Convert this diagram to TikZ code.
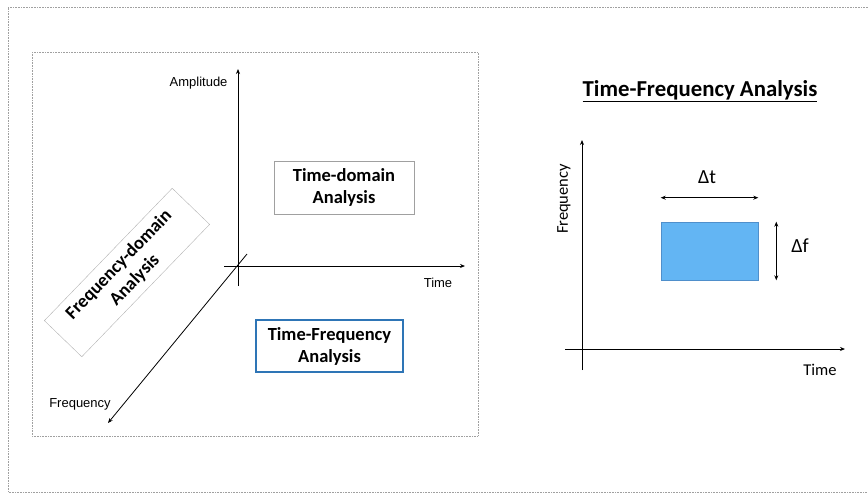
\documentclass[tikz,border=0pt]{standalone}
\usepackage{fontspec}
\setmainfont{Carlito}
\newfontfamily\arialfont{Liberation Sans}
\usetikzlibrary{arrows.meta}
\definecolor{boxblue}{HTML}{2E75B6}
\definecolor{cellfill}{HTML}{63B5F3}
\definecolor{cellline}{HTML}{4F8FCB}
\definecolor{framegray}{HTML}{A0A0A0}
\begin{document}
\begin{tikzpicture}[x=1pt, y=-1pt,
    axis/.style={line width=0.8pt, -{Stealth[length=5pt,width=4pt]}},
    span/.style={line width=0.8pt, {Stealth[length=5pt,width=4pt]}-{Stealth[length=5pt,width=4pt]}},
    analysis/.style={draw, align=center, inner sep=0pt, font=\fontsize{18.5}{22}\selectfont\bfseries},
    axislabel/.style={font=\arialfont\fontsize{13}{15}\selectfont}]
    \useasboundingbox (0,0) rectangle (868,493);
    % frames
    \draw[framegray, densely dotted, line width=0.6pt] (868,7) -- (8,7) -- (8,492) -- (868,492);
    \draw[framegray, densely dotted, line width=0.6pt] (32,52) rectangle (478,436);
    % left: three axes
    \coordinate (ampbot) at (238,286);
    \coordinate (amptop) at (238,69);
    \coordinate (timeleft) at (224,266);
    \coordinate (timeright) at (465,266);
    \coordinate (freqback) at (247,254);
    \coordinate (freqfront) at (108,423);
    \draw[axis] (ampbot) -- (amptop);
    \draw[axis] (timeleft) -- (timeright);
    \draw[axis] (freqback) -- (freqfront);
    \node[axislabel, anchor=east] (amplabel) at (231,83) {Amplitude};
    \node[axislabel] (timelabel) at (438,283) {Time};
    \node[axislabel] (freqlabel) at (80,404) {Frequency};
    \node[analysis, draw=framegray, minimum width=140, minimum height=53] (timedom) at (344,187.5) {Time-domain\\Analysis};
    \node[analysis, draw=boxblue, line width=1.8pt, minimum width=147, minimum height=52] (tfbox) at (329.5,346) {Time-Frequency\\Analysis};
    \node[analysis, draw=framegray!80, rotate=46, minimum width=184, minimum height=52] (freqdom) at (127,272.5) {Frequency-domain\\Analysis};
    % right: time-frequency plane
    \node[inner sep=0pt, font=\fontsize{22.8}{26}\selectfont\bfseries] (title) at (700,91) {\underline{Time-Frequency Analysis}};
    \coordinate (vbot) at (582,370);
    \coordinate (vtop) at (582,140);
    \coordinate (hleft) at (565,349);
    \coordinate (hright) at (845,349);
    \draw[axis] (vbot) -- (vtop);
    \draw[axis] (hleft) -- (hright);
    \node[font=\fontsize{16.5}{18}\selectfont] (rtime) at (820,370) {Time};
    \node[rotate=90, font=\fontsize{16.5}{18}\selectfont] (rfreq) at (564,199) {Frequency};
    \node[draw=cellline, fill=cellfill, line width=0.6pt, minimum width=97, minimum height=58, inner sep=0pt] (cell) at (709.5,251) {};
    \draw[span] ([yshift=24pt]cell.north west) -- ([yshift=24pt]cell.north east);
    \draw[span] ([xshift=18pt]cell.north east) -- ([xshift=18pt]cell.south east);
    \node[font=\fontsize{20}{22}\selectfont] (dt) at (707,177) {Δt};
    \node[font=\fontsize{20}{22}\selectfont] (df) at (800,246) {Δf};
\end{tikzpicture}
\end{document}
